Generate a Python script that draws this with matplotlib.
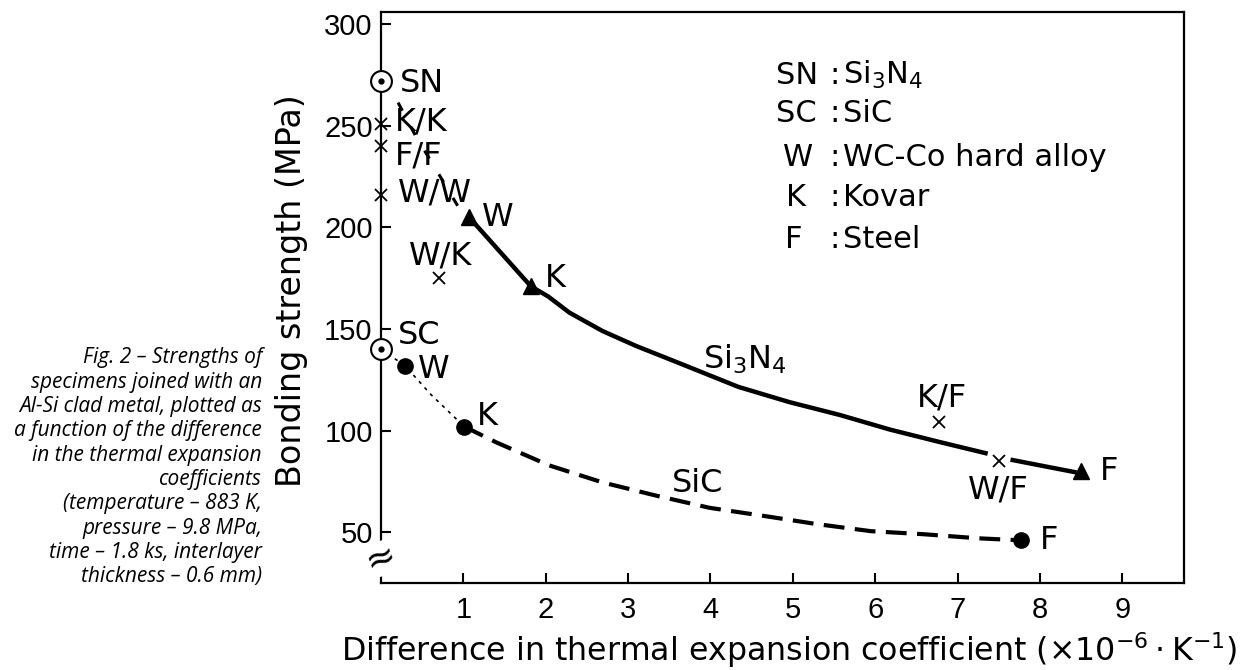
import matplotlib
matplotlib.use('Agg')
from matplotlib import pyplot as plt

plt.rcParams['font.family'] = ['DejaVu Sans']

# Si3N4 joints (triangles): W, K, F
sn_x = [1.07, 1.82, 8.50]
sn_y = [205, 171, 80]
sn_lab = ['W', 'K', 'F']

# SiC joints (filled circles): W, K, F
sc_x = [0.29, 1.01, 7.77]
sc_y = [132, 102, 46]
sc_lab = ['W', 'K', 'F']

# ceramics alone (open circles at zero difference)
base_x = [0.0, 0.0]
base_y = [272, 140]
base_lab = ['SN', 'SC']

# metal/metal joints (crosses)
mm_x = [0.0, 0.0, 0.0, 0.70, 6.78, 7.50]
mm_y = [251, 240, 216, 175, 104, 85]
mm_lab = ['K/K', 'F/F', 'W/W', 'W/K', 'K/F', 'W/F']

# curves
sn_top_x = [0.0, 0.2, 0.42, 0.69, 0.94, 1.07]
sn_top_y = [272, 262, 245, 227, 210, 205]
sn_curve1_x = [1.07, 1.82, 2.03, 2.29, 2.69, 3.1, 3.51, 3.91, 4.34, 4.96, 5.57, 6.18, 6.78, 7.34]
sn_curve1_y = [205, 171, 166, 158, 149, 141.6, 135, 128.5, 121.5, 114, 107.7, 100.5, 94.4, 88.9]
sn_curve2_x = [7.67, 8.05, 8.42]
sn_curve2_y = [85.5, 82.5, 79.6]
sc_top_x = [0.0, 0.29, 0.6, 1.01]
sc_top_y = [140, 132, 118, 102]
sc_curve_x = [1.01, 1.40, 2.04, 2.69, 3.34, 3.99, 4.65, 5.29, 5.95, 6.59, 7.25, 7.77]
sc_curve_y = [102, 94.2, 82.9, 74.5, 68, 62, 58, 54, 50.5, 49, 47, 46]

fig = plt.figure(figsize=(12.54, 6.70), dpi=100)
ax = fig.add_axes([381 / 1254, 87 / 670, 803 / 1254, 571 / 670])

# curves
ax.plot(sn_top_x, sn_top_y, color='black', lw=2.2, linestyle=(0, (3, 6)))
ax.plot(sn_curve1_x, sn_curve1_y, color='black', lw=3.2)
ax.plot(sn_curve2_x, sn_curve2_y, color='black', lw=3.2)
ax.plot(sc_top_x, sc_top_y, color='black', lw=1.2, linestyle=(0, (2, 3)))
ax.plot(sc_curve_x, sc_curve_y, color='black', lw=3, linestyle=(0, (5, 2.5)))

# markers
ax.plot(base_x, base_y, 'o', ms=15, mfc='white', mec='black', mew=1.5, clip_on=False, zorder=5)
ax.plot(base_x, base_y, 'o', ms=3.5, color='black', clip_on=False, zorder=6)
ax.plot(sn_x, sn_y, '^', ms=12, color='black', zorder=5)
ax.plot(sc_x, sc_y, 'o', ms=11, color='black', zorder=5)
ax.plot(mm_x, mm_y, 'x', ms=9, mew=1.3, color='black', clip_on=False, zorder=5)

fs = 23
# point labels
for lab, x, y in zip(base_lab, [0.23, 0.21], [271, 147]):
    ax.text(x, y, lab, fontsize=fs, ha='left', va='center')
for lab, x, y in zip(sn_lab, [1.23, 1.99, 8.73], [205, 175, 80]):
    ax.text(x, y, lab, fontsize=fs, ha='left', va='center')
for lab, x, y in zip(sc_lab, [0.45, 1.17, 8.0], [130, 107, 46]):
    ax.text(x, y, lab, fontsize=fs, ha='left', va='center')
mm_tx = [0.17, 0.17, 0.21, 0.72, 6.81, 7.5]
mm_ty = [252, 235, 217, 186, 116, 71]
mm_ha = ['left', 'left', 'left', 'center', 'center', 'center']
for lab, x, y, ha in zip(mm_lab, mm_tx, mm_ty, mm_ha):
    ax.text(x, y, lab, fontsize=fs, ha=ha, va='center')

ax.text(3.91, 135, r'Si$_3$N$_4$', fontsize=fs, ha='left', va='center')
ax.text(3.53, 74, 'SiC', fontsize=fs, ha='left', va='center')

# key
keys = ['SN', 'SC', 'W', 'K', 'F']
meanings = [r'Si$_3$N$_4$', 'SiC', 'WC-Co hard alloy', 'Kovar', 'Steel']
key_x = [776, 776, 783, 786, 785]
key_y = [75, 114, 158, 198, 240]
for k, m, kx, ky in zip(keys, meanings, key_x, key_y):
    fy = (583 - ky) / 571
    ax.text((kx - 381) / 803, fy, k, fontsize=22, ha='left', va='center', transform=ax.transAxes)
    ax.text((829 - 381) / 803, fy, ':', fontsize=22, ha='left', va='center', transform=ax.transAxes)
    ax.text((843 - 381) / 803, fy, m, fontsize=22, ha='left', va='center', transform=ax.transAxes)

# axes
ax.set_xlim(0, 9.75)
ax.set_ylim(25, 306)
ax.set_xticks(range(1, 10))
ax.set_yticks([50, 100, 150, 200, 250, 300])
ax.tick_params(direction='in', length=7, width=1.5, labelsize=21, pad=9)
ax.tick_params(axis='y', pad=6)
for lab in ax.get_xticklabels() + ax.get_yticklabels():
    lab.set_family('Liberation Sans')
for s in ax.spines.values():
    s.set_linewidth(1.6)

# axis break mark
ax.text(0, 37, '≈', fontsize=26, ha='center', va='center', rotation=20,
        bbox=dict(facecolor='white', edgecolor='none', pad=0))

fig.text(291 / 1254, 1 - 291 / 670, 'Bonding strength (MPa)', fontsize=24,
         rotation=90, ha='center', va='center')
fig.text(789 / 1254, 1 - 650 / 670,
         r'Difference in thermal expansion coefficient ($\times$10$^{-6}\cdot$K$^{-1}$)',
         fontsize=22.8, ha='center', va='center')

caption = ['Fig. 2 – Strengths of',
           'specimens joined with an',
           'Al-Si clad metal, plotted as',
           'a function of the difference',
           'in the thermal expansion',
           'coefficients',
           '(temperature – 883 K,',
           'pressure – 9.8 MPa,',
           'time – 1.8 ks, interlayer',
           'thickness – 0.6 mm)']
for i, line in enumerate(caption):
    fig.text(262 / 1254, 1 - (358 + i * 24.3) / 670, line, fontsize=15,
             style='italic', family=['Open Sans', 'DejaVu Sans'], ha='right', va='center')

fig.savefig('out.png', dpi=100)
